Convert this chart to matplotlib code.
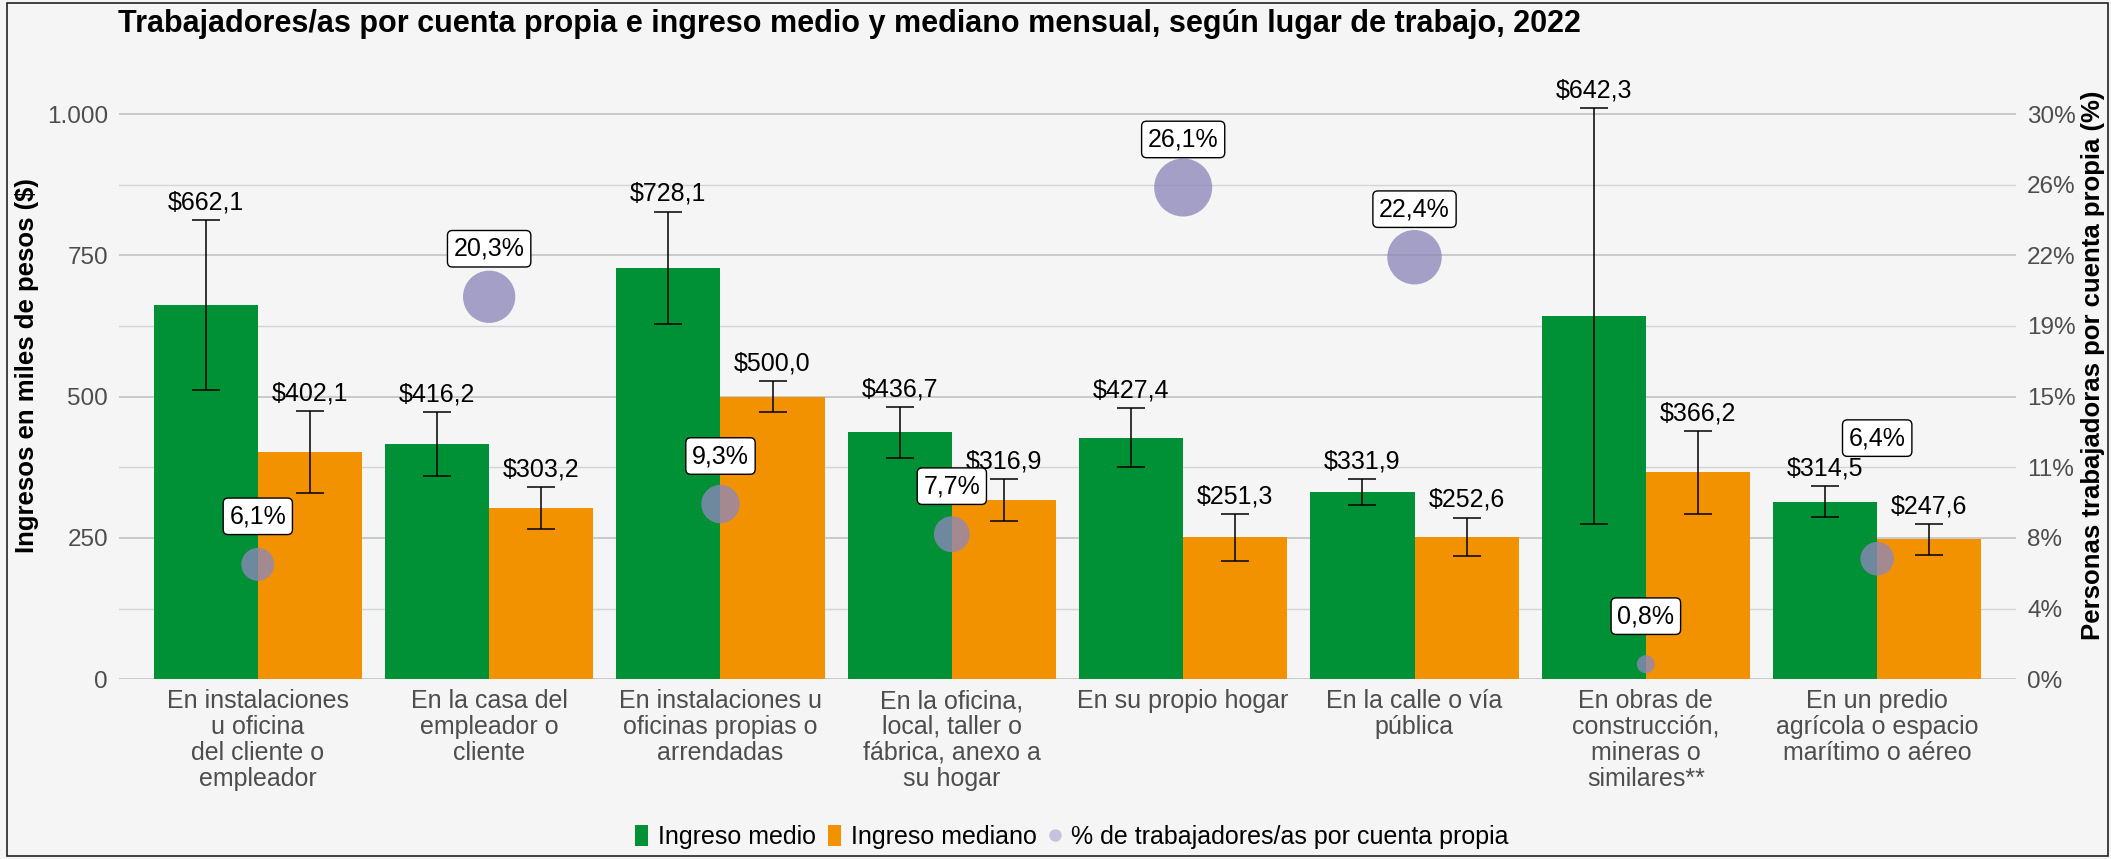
import matplotlib
matplotlib.use("Agg")
import matplotlib.pyplot as plt
from matplotlib.patches import Patch, Rectangle
from matplotlib.lines import Line2D
import numpy as np

plt.rcParams['font.family'] = ['Liberation Sans', 'DejaVu Sans']

# datos
categories = [
    "En instalaciones\nu oficina\ndel cliente o\nempleador",
    "En la casa del\nempleador o\ncliente",
    "En instalaciones u\noficinas propias o\narrendadas",
    "En la oficina,\nlocal, taller o\nfábrica, anexo a\nsu hogar",
    "En su propio hogar",
    "En la calle o vía\npública",
    "En obras de\nconstrucción,\nmineras o\nsimilares**",
    "En un predio\nagrícola o espacio\nmarítimo o aéreo",
]
ingreso_medio = [662.1, 416.2, 728.1, 436.7, 427.4, 331.9, 642.3, 314.5]
medio_err = [150.6, 56.7, 99.4, 45.7, 52.2, 23.0, 367.9, 28.0]
ingreso_mediano = [402.1, 303.2, 500.0, 316.9, 251.3, 252.6, 366.2, 247.6]
mediano_err = [72.5, 36.9, 27.2, 37.7, 41.9, 33.6, 72.9, 27.8]
pct_trabajadores = [6.1, 20.3, 9.3, 7.7, 26.1, 22.4, 0.8, 6.4]

# estilo
GREEN = "#009036"
ORANGE = "#F39200"
PURPLE = "#8e87bb"
BG = "#f5f5f5"
GRAY = "#4d4d4d"
W, H = 2111, 859

# nudge of the % labels (in % units); the last one was pushed up by repel
label_nudge = [2.55, 2.55, 2.55, 2.55, 2.55, 2.55, 2.55, 6.4]


def fmt(v):
    return "$" + f"{v:.1f}".replace(".", ",")


fig = plt.figure(figsize=(W / 100, H / 100), dpi=100, facecolor=BG)
ax = fig.add_axes([119 / W, (H - 679.3) / H, (2016 - 119) / W, 599.2 / H])
ax.set_facecolor(BG)

x = np.arange(len(categories))
bw = 0.45
ax.bar(x - bw / 2, ingreso_medio, bw, color=GREEN, zorder=2)
ax.bar(x + bw / 2, ingreso_mediano, bw, color=ORANGE, zorder=2)
ax.errorbar(x - bw / 2, ingreso_medio, yerr=medio_err, fmt="none", ecolor="black",
            elinewidth=1.1, capsize=10.3, capthick=1.1, zorder=3)
ax.errorbar(x + bw / 2, ingreso_mediano, yerr=mediano_err, fmt="none", ecolor="black",
            elinewidth=1.1, capsize=10.3, capthick=1.1, zorder=3)

for xi, v, e in zip(x - bw / 2, ingreso_medio, medio_err):
    ax.annotate(fmt(v), (xi, v + e), xytext=(0, 4), textcoords="offset points",
                ha="center", va="bottom", fontsize=18, color="black", zorder=4,
                annotation_clip=False)
for xi, v, e in zip(x + bw / 2, ingreso_mediano, mediano_err):
    ax.annotate(fmt(v), (xi, v + e), xytext=(0, 4), textcoords="offset points",
                ha="center", va="bottom", fontsize=18, color="black", zorder=4,
                annotation_clip=False)

ax.set_xlim(-0.6, 7.6)
ax.set_ylim(0, 1060)
ax.set_yticks([0, 250, 500, 750, 1000])
ax.set_yticklabels(["0", "250", "500", "750", "1.000"])
ax.set_yticks(np.arange(125, 1000, 250), minor=True)
ax.yaxis.grid(True, which="major", color="#c6c6c6", linewidth=1.3)
ax.yaxis.grid(True, which="minor", color="#d4d4d4", linewidth=1.0)
ax.set_axisbelow(True)
ax.set_xticks(x)
ax.set_xticklabels(categories, fontsize=18, color=GRAY, linespacing=1.1, va="top")
ax.tick_params(axis="both", which="both", length=0)
ax.tick_params(axis="x", pad=7)
ax.tick_params(axis="y", labelsize=17.5, labelcolor=GRAY, pad=8)
for s in ax.spines.values():
    s.set_visible(False)

# eje derecho: % de trabajadores
ax2 = ax.twinx()
ax2.set_ylim(0, 30 * 1060 / 1000)
pticks = np.arange(0, 30.01, 3.75)
ax2.set_yticks(pticks)
ax2.set_yticklabels([f"{round(t)}%" for t in pticks])
ax2.tick_params(axis="y", length=0, labelsize=17.5, labelcolor=GRAY, pad=8)
for s in ax2.spines.values():
    s.set_visible(False)

sizes = [((9.5 + 9.5 * np.sqrt(p)) * 0.72) ** 2 for p in pct_trabajadores]
ax2.scatter(x, pct_trabajadores, s=sizes, color=PURPLE, alpha=0.78, linewidths=0, zorder=5)
for xi, p, nd in zip(x, pct_trabajadores, label_nudge):
    ax2.text(xi, p + nd, f"{p:.1f}%".replace(".", ","), ha="center", va="center",
             fontsize=18, color="black", zorder=6,
             bbox=dict(boxstyle="round,pad=0.25,rounding_size=0.2", facecolor="white",
                       edgecolor="black", linewidth=1.0))

# textos
fig.text(118 / W, 1 - 24 / H,
         "Trabajadores/as por cuenta propia e ingreso medio y mediano mensual, según lugar de trabajo, 2022",
         ha="left", va="center", fontsize=22, fontweight="bold", color="black")
fig.text(27 / W, 1 - 366 / H, "Ingresos en miles de pesos ($)", rotation=90,
         ha="center", va="center", fontsize=18.5, fontweight="bold")
fig.text(2093 / W, 1 - 365 / H, "Personas trabajadoras por cuenta propia (%)", rotation=90,
         ha="center", va="center", fontsize=18.5, fontweight="bold")

handles = [
    Patch(facecolor=GREEN, edgecolor="none"),
    Patch(facecolor=ORANGE, edgecolor="none"),
    Line2D([], [], marker="o", linestyle="none", markersize=9, markerfacecolor="#c5c3dc",
           markeredgewidth=0),
]
fig.legend(handles, ["Ingreso medio", "Ingreso mediano", "% de trabajadores/as por cuenta propia"],
           loc="center", bbox_to_anchor=(1072 / W, 1 - 837 / H), ncol=3, frameon=False,
           fontsize=18, handlelength=0.5, handleheight=0.9, handletextpad=0.4,
           columnspacing=0.5)

# marco
fig.patches.append(Rectangle((7 / W, 3 / H), (2108 - 7) / W, (856 - 3) / H,
                             transform=fig.transFigure, fill=False,
                             edgecolor="#222222", linewidth=1.2))

fig.savefig("out.png", dpi=100, facecolor=BG)
